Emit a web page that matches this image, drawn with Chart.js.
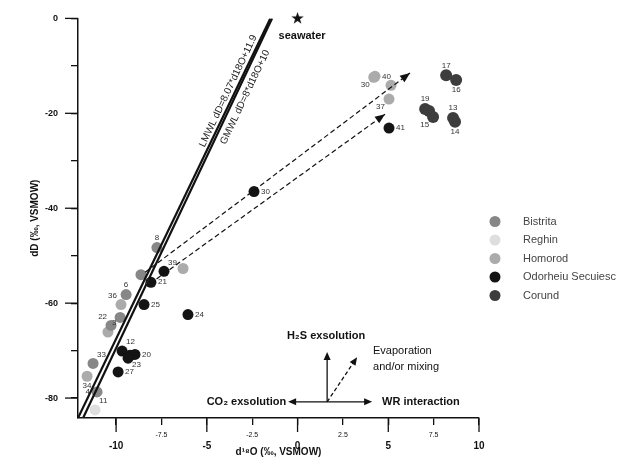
<!DOCTYPE html>
<html>
<head>
<meta charset="utf-8">
<title>dD vs d18O</title>
<script src="https://cdn.jsdelivr.net/npm/chart.js@4.4.0/dist/chart.umd.min.js"></script>
<style>
    html, body { margin: 0; padding: 0; background: #fff; }
    #wrap { width: 634px; height: 467px; }
</style>
</head>
<body>
<div id="wrap"><canvas id="chart" width="634" height="467"></canvas></div>
<script>
// Axis ticks
const xTicks = [-10, -7.5, -5, -2.5, 0, 2.5, 5, 7.5, 10];
const yTicks = [-80, -70, -60, -50, -40, -30, -20, -10, 0];

// Sample groups (d18O, dD, sample number)
const bistritaX = [-7.75, -8.63, -9.45, -9.78, -10.28, -11.27, -11.05];
const bistritaY = [-48.3, -54.0, -58.2, -63.0, -64.7, -72.7, -78.7];
const bistritaId = ['8', '2', '6', '', '22', '33', '4'];

const reghinX = [-11.16];
const reghinY = [-82.5];
const reghinId = ['11'];

const homorodX = [4.27, 4.2, 5.15, 5.04, -6.31, -9.73, -10.45, -11.6];
const homorodY = [-12.2, -12.4, -14.1, -17.0, -52.7, -60.3, -66.1, -75.4];
const homorodId = ['40', '30', '', '37', '', '36', '3', '34'];

const odorheiuX = [5.04, -2.4, -7.36, -8.08, -8.46, -6.04, -9.67, -9.23, -8.96, -9.34, -9.89];
const odorheiuY = [-23.1, -36.5, -53.3, -55.6, -60.3, -62.4, -70.1, -71.0, -70.8, -71.6, -74.5];
const odorheiuId = ['41', '30', '39', '21', '25', '24', '12', '', '20', '23', '27'];

const corundX = [8.19, 8.74, 7.03, 7.25, 7.47, 8.57, 8.68];
const corundY = [-12.0, -13.0, -19.1, -19.5, -20.8, -21.0, -21.8];
const corundId = ['17', '16', '19', '', '15', '13', '14'];

// Meteoric water lines (end points)
const lmwlX = [-12.1, -1.5];
const lmwlY = [-84.2, 0];
const gmwlX = [-11.82, -1.4];
const gmwlY = [-84.2, 0];

// Trend arrows
const arrowUpX = [-8.4, 6.2];
const arrowUpY = [-53.5, -11.5];
const arrowLowX = [-8.13, 4.82];
const arrowLowY = [-55.9, -20.2];

const seawaterX = [0];
const seawaterY = [0];

// label placement for sample numbers (style only)
const bistritaSide = ['t', 'br', 't', '', 'tl', 'tr', 'l'];
const reghinSide = ['tr'];
const homorodSide = ['r', 'bl', '', 'bl', '', 'tl', 'tr', 'b'];
const odorheiuSide = ['r', 'r', 'tr', 'r', 'r', 'r', 'tr', '', 'r', 'br', 'r'];
const corundSide = ['t', 'b', 't', '', 'bl', 't', 'b'];

const FONT = '"Liberation Sans", Arial, sans-serif';

function pts(xs, ys) {
    return xs.map((x, i) => ({ x: x, y: ys[i] }));
}

const groups = [
    { label: 'Bistrita', xs: bistritaX, ys: bistritaY, ids: bistritaId, side: bistritaSide, color: '#878787', r: 5.5 },
    { label: 'Reghin', xs: reghinX, ys: reghinY, ids: reghinId, side: reghinSide, color: '#dedede', r: 5.5 },
    { label: 'Homorod', xs: homorodX, ys: homorodY, ids: homorodId, side: homorodSide, color: '#ababab', r: 5.5 },
    { label: 'Odorheiu Secuiesc', xs: odorheiuX, ys: odorheiuY, ids: odorheiuId, side: odorheiuSide, color: '#141414', r: 5.5 },
    { label: 'Corund', xs: corundX, ys: corundY, ids: corundId, side: corundSide, color: '#3d3d3d', r: 6 }
];

// filled star for seawater
function starCanvas(size, color) {
    const c = document.createElement('canvas');
    c.width = c.height = size;
    const g = c.getContext('2d');
    g.fillStyle = color;
    g.beginPath();
    for (let i = 0; i < 10; i++) {
        const r = i % 2 ? size * 0.2 : size * 0.5;
        const a = -Math.PI / 2 + i * Math.PI / 5;
        g.lineTo(size / 2 + r * Math.cos(a), size / 2 + r * Math.sin(a));
    }
    g.closePath();
    g.fill();
    return c;
}

function lineSet(name, xs, ys, width, dash, color) {
    return {
        label: name,
        data: pts(xs, ys),
        showLine: true,
        borderColor: color || '#111',
        backgroundColor: color || '#111',
        borderWidth: width,
        borderDash: dash || [],
        pointRadius: 0,
        pointHoverRadius: 0
    };
}

// MWLs are drawn as a dark line with a light dashed core, like the scan
const datasets = [
    lineSet('LMWL', lmwlX, lmwlY, 2.2),
    lineSet('LMWL core', lmwlX, lmwlY, 0.7, [3, 3], '#fff'),
    lineSet('GMWL', gmwlX, gmwlY, 2.2),
    lineSet('GMWL core', gmwlX, gmwlY, 0.7, [3, 3], '#fff'),
    lineSet('arrowUp', arrowUpX, arrowUpY, 1.2, [5, 3]),
    lineSet('arrowLow', arrowLowX, arrowLowY, 1.2, [5, 3])
];
groups.forEach(g => {
    datasets.push({
        label: g.label,
        data: pts(g.xs, g.ys),
        backgroundColor: g.color,
        borderColor: g.color,
        borderWidth: 0,
        pointRadius: g.r,
        pointHoverRadius: g.r,
        clip: false
    });
});
datasets.push({
    label: 'seawater',
    data: pts(seawaterX, seawaterY),
    pointStyle: starCanvas(13, '#111'),
    pointRadius: 6,
    clip: false
});

// Arrow head helper
function head(ctx, x0, y0, x1, y1, len, wid) {
    const a = Math.atan2(y1 - y0, x1 - x0);
    const c = Math.cos(a), s = Math.sin(a);
    ctx.beginPath();
    ctx.moveTo(x1, y1);
    ctx.lineTo(x1 - len * c + wid * s, y1 - len * s - wid * c);
    ctx.lineTo(x1 - len * c - wid * s, y1 - len * s + wid * c);
    ctx.closePath();
    ctx.fill();
}

function seg(ctx, x0, y0, x1, y1) {
    ctx.beginPath();
    ctx.moveTo(x0, y0);
    ctx.lineTo(x1, y1);
    ctx.stroke();
}

const decor = {
    id: 'decor',
    afterDatasetsDraw(chart) {
        const ctx = chart.ctx;
        const xs = chart.scales.x, ys = chart.scales.y;
        const X = v => xs.getPixelForValue(v);
        const Y = v => ys.getPixelForValue(v);
        ctx.save();
        ctx.fillStyle = '#111';
        ctx.strokeStyle = '#111';

        // heads of the trend arrows
        chart.data.datasets.forEach((ds, i) => {
            if (ds.label !== 'arrowUp' && ds.label !== 'arrowLow') return;
            const p = chart.getDatasetMeta(i).data;
            const a = p[p.length - 2], b = p[p.length - 1];
            head(ctx, a.x, a.y, b.x, b.y, 10, 4);
        });

        // sample numbers
        ctx.font = '8px ' + FONT;
        ctx.fillStyle = '#333';
        groups.forEach(g => {
            const idx = chart.data.datasets.findIndex(d => d.label === g.label);
            const meta = chart.getDatasetMeta(idx);
            g.ids.forEach((id, k) => {
                if (!id) return;
                const el = meta.data[k];
                let dx = 7, dy = 0, align = 'left';
                switch (g.side[k]) {
                    case 'l': dx = -7; align = 'right'; break;
                    case 't': dx = 0; dy = -10; align = 'center'; break;
                    case 'b': dx = 0; dy = 10; align = 'center'; break;
                    case 'tr': dx = 4; dy = -9; break;
                    case 'br': dx = 4; dy = 7; break;
                    case 'tl': dx = -4; dy = -9; align = 'right'; break;
                    case 'bl': dx = -4; dy = 8; align = 'right'; break;
                }
                ctx.textAlign = align;
                ctx.textBaseline = 'middle';
                ctx.fillText(id, el.x + dx, el.y + dy);
            });
        });

        // meteoric water line labels
        ctx.fillStyle = '#222';
        const ang = Math.atan2(Y(gmwlY[1]) - Y(gmwlY[0]), X(gmwlX[1]) - X(gmwlX[0]));
        ctx.font = '10px ' + FONT;
        ctx.textAlign = 'center';
        ctx.textBaseline = 'middle';
        [['LMWL dD=8.07*d18O+11.9', -3.82, -15.3], ['GMWL dD=8*d18O+10', -2.89, -16.6]].forEach(t => {
            ctx.save();
            ctx.translate(X(t[1]), Y(t[2]));
            ctx.rotate(ang);
            ctx.fillText(t[0], 0, 0);
            ctx.restore();
        });

        // seawater label
        ctx.fillStyle = '#111';
        ctx.font = 'bold 11px ' + FONT;
        ctx.fillText('seawater', X(0.25), Y(-3.8));

        // process vectors
        const cx = X(1.63), cy = Y(-80.8);
        ctx.lineWidth = 1.3;
        seg(ctx, X(-0.52) + 4, cy, X(4.11) - 4, cy);
        head(ctx, cx, cy, X(-0.52), cy, 8, 3.5);
        head(ctx, cx, cy, X(4.11), cy, 8, 3.5);
        seg(ctx, cx, cy, cx, Y(-70.3) + 4);
        head(ctx, cx, cy, cx, Y(-70.3), 8, 3.5);
        ctx.setLineDash([4, 2.5]);
        seg(ctx, cx, cy, X(3.28) - 2, Y(-71.4) + 3);
        ctx.setLineDash([]);
        head(ctx, cx, cy, X(3.28), Y(-71.4), 8, 3.5);

        ctx.font = 'bold 11px ' + FONT;
        ctx.textBaseline = 'middle';
        ctx.textAlign = 'right';
        ctx.fillText('CO\u2082 exsolution', X(-0.63), cy);
        ctx.textAlign = 'left';
        ctx.fillText('WR interaction', X(4.66), cy);
        ctx.textAlign = 'center';
        ctx.fillText('H\u2082S exsolution', X(1.57), Y(-67.0));
        ctx.font = '11px ' + FONT;
        ctx.textAlign = 'left';
        ctx.fillText('Evaporation', X(4.16), Y(-70.1));
        ctx.fillText('and/or mixing', X(4.16), Y(-73.5));

        // long ticks on labelled values
        ctx.lineWidth = 1.3;
        xTicks.filter(v => v % 5 === 0).forEach(v => seg(ctx, X(v), xs.top, X(v), xs.top + 14));
        yTicks.filter(v => v % 20 === 0).forEach(v => seg(ctx, ys.right - 13, Y(v), ys.right, Y(v)));

        // legend
        ctx.font = '11px ' + FONT;
        ctx.textAlign = 'left';
        ctx.textBaseline = 'middle';
        groups.forEach((g, k) => {
            const ly = 221.5 + k * 18.5;
            ctx.fillStyle = g.color;
            ctx.beginPath();
            ctx.arc(495, ly, 5.5, 0, Math.PI * 2);
            ctx.fill();
            ctx.fillStyle = '#444';
            ctx.fillText(g.label, 523, ly);
        });
        ctx.restore();
    }
};

Chart.defaults.font.family = FONT;
Chart.defaults.color = '#111';

new Chart(document.getElementById('chart'), {
    type: 'scatter',
    data: { datasets: datasets },
    options: {
        responsive: false,
        animation: false,
        devicePixelRatio: 1,
        layout: { padding: { left: 0, right: 155, top: 17, bottom: 0 } },
        plugins: {
            legend: { display: false },
            tooltip: { enabled: false }
        },
        scales: {
            x: {
                type: 'linear',
                min: -12.1,
                max: 10,
                afterBuildTicks: scale => { scale.ticks = xTicks.map(v => ({ value: v })); },
                afterFit: scale => { scale.height = 49; },
                grid: { drawOnChartArea: false, tickLength: 7, color: '#111', lineWidth: 1.3 },
                border: { color: '#111', width: 1.5 },
                ticks: {
                    autoSkip: false,
                    maxRotation: 0,
                    padding: 6,
                    color: '#111',
                    font: ctx => ctx.tick && ctx.tick.value % 5 === 0
                        ? { size: 10, weight: 'bold', lineHeight: 1 }
                        : { size: 7, lineHeight: 1.15 },
                    callback: v => v % 5 === 0 ? ['', String(v)] : String(v)
                },
                title: {
                    display: true,
                    text: 'd\u00b9\u2078O (\u2030, VSMOW)',
                    font: { size: 10, weight: 'bold' },
                    padding: { top: 0, bottom: 9 }
                }
            },
            y: {
                type: 'linear',
                min: -84.2,
                max: 0,
                afterBuildTicks: scale => { scale.ticks = yTicks.map(v => ({ value: v })); },
                afterFit: scale => { scale.width = 78; },
                grid: { drawOnChartArea: false, tickLength: 7, color: '#111', lineWidth: 1.3 },
                border: { color: '#111', width: 1.5 },
                ticks: {
                    padding: 13,
                    color: '#111',
                    font: { size: 9, weight: 'bold' },
                    callback: v => v % 20 === 0 ? String(v) : ''
                },
                title: {
                    display: true,
                    text: 'dD (\u2030, VSMOW)',
                    font: { size: 10, weight: 'bold' },
                    padding: { top: 29, bottom: 0 }
                }
            }
        }
    },
    plugins: [decor]
});
</script>
</body>
</html>
